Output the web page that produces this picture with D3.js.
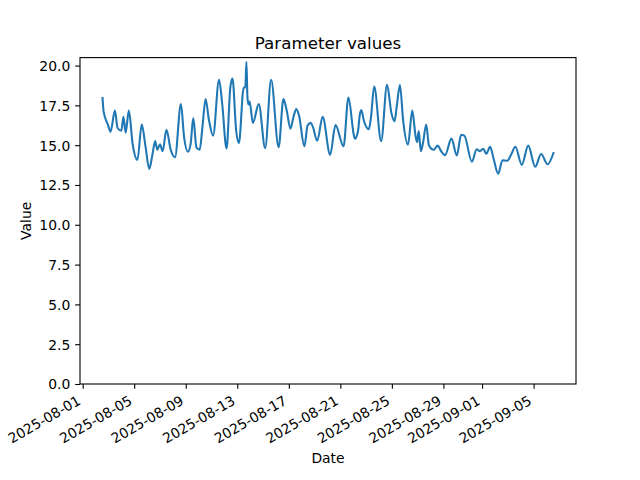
<!DOCTYPE html>
<html>
<head>
<meta charset="utf-8">
<script src="https://cdn.jsdelivr.net/npm/d3@7"></script>
<style>
  body { margin: 0; background: #fff; }
  svg text { font-family: "DejaVu Sans", sans-serif; fill: #000; }
</style>
</head>
<body>
<svg id="chart" width="640" height="480"></svg>
<script>
// ---- data ----
const dates = [
  "2025-08-02T13:00","2025-08-02T15:00","2025-08-02T23:00","2025-08-03T04:00","2025-08-03T12:00",
  "2025-08-03T17:00","2025-08-04T00:00","2025-08-04T04:00","2025-08-04T08:00","2025-08-04T14:00",
  "2025-08-04T21:00","2025-08-05T06:00","2025-08-05T14:00","2025-08-05T21:00","2025-08-06T04:00",
  "2025-08-06T10:00","2025-08-06T15:00","2025-08-06T19:00","2025-08-07T00:00","2025-08-07T05:00",
  "2025-08-07T12:00","2025-08-07T20:00","2025-08-08T04:00","2025-08-08T15:00","2025-08-08T21:00",
  "2025-08-09T04:00","2025-08-09T09:00","2025-08-09T14:00","2025-08-09T20:00","2025-08-10T02:00",
  "2025-08-10T07:00","2025-08-10T13:00","2025-08-10T19:00","2025-08-11T03:00","2025-08-11T14:00",
  "2025-08-11T20:00","2025-08-12T04:00","2025-08-12T11:00","2025-08-12T15:00","2025-08-12T22:00",
  "2025-08-13T03:00","2025-08-13T12:00","2025-08-13T15:00","2025-08-13T17:00","2025-08-13T19:00",
  "2025-08-13T21:00","2025-08-13T23:00","2025-08-14T05:00","2025-08-14T16:00","2025-08-15T04:00",
  "2025-08-15T15:00","2025-08-16T05:00","2025-08-16T14:00","2025-08-16T20:00","2025-08-17T03:00",
  "2025-08-17T09:00","2025-08-17T14:00","2025-08-17T19:00","2025-08-18T05:00","2025-08-18T11:00",
  "2025-08-18T17:00","2025-08-18T21:00","2025-08-19T05:00","2025-08-19T15:00","2025-08-20T05:00",
  "2025-08-20T15:00","2025-08-21T06:00","2025-08-21T15:00","2025-08-22T01:00","2025-08-22T03:00",
  "2025-08-22T09:00","2025-08-22T12:00","2025-08-22T15:00","2025-08-22T20:00","2025-08-23T05:00",
  "2025-08-23T09:00","2025-08-23T15:00","2025-08-24T04:00","2025-08-24T15:00","2025-08-24T23:00",
  "2025-08-25T05:00","2025-08-25T09:00","2025-08-25T15:00","2025-08-25T21:00","2025-08-26T06:00",
  "2025-08-26T14:00","2025-08-26T20:00","2025-08-26T23:00","2025-08-27T02:00","2025-08-27T06:00",
  "2025-08-27T10:00","2025-08-27T16:00","2025-08-27T21:00","2025-08-28T06:00","2025-08-28T13:00",
  "2025-08-28T21:00","2025-08-29T03:00","2025-08-29T15:00","2025-08-30T01:00","2025-08-30T09:00",
  "2025-08-30T15:00","2025-08-31T05:00","2025-08-31T14:00","2025-08-31T20:00","2025-09-01T02:00",
  "2025-09-01T08:00","2025-09-01T15:00","2025-09-01T22:00","2025-09-02T06:00","2025-09-02T14:00",
  "2025-09-02T23:00","2025-09-03T06:00","2025-09-03T14:00","2025-09-04T02:00","2025-09-04T14:00",
  "2025-09-05T03:00","2025-09-05T14:00","2025-09-06T02:00","2025-09-06T13:00"
];
const values = [
  17.96,17.11,16.29,15.85,17.17,
  16.08,15.91,16.79,15.78,17.17,
  15.09,14.08,16.29,14.93,13.51,
  14.42,15.26,14.71,15.06,14.62,
  15.97,14.71,14.24,17.58,15.47,
  14.59,15.05,16.70,14.84,14.71,
  16.10,17.90,16.62,15.60,19.11,
  17.57,14.78,18.62,19.19,15.89,
  15.13,18.62,18.62,20.23,17.97,
  17.55,17.74,16.40,17.58,14.81,
  19.11,14.87,17.90,17.19,16.04,
  16.82,17.27,16.86,14.93,16.23,
  16.40,16.13,15.28,16.79,14.40,
  16.26,14.93,17.99,15.66,15.40,
  15.91,16.86,17.20,16.52,16.00,
  16.73,18.68,15.25,18.80,17.04,
  16.51,17.42,18.78,16.54,15.03,
  17.17,15.60,15.19,15.88,14.62,
  15.15,16.30,15.00,14.71,14.97,
  14.56,14.37,15.41,14.35,15.65,
  15.60,13.96,14.74,14.62,14.78,
  14.46,14.90,14.08,13.20,14.05,
  14.02,14.40,14.90,13.76,14.97,
  13.64,14.45,13.80,14.51
];
const xTickDates = ["2025-08-01","2025-08-05","2025-08-09","2025-08-13","2025-08-17",
                    "2025-08-21","2025-08-25","2025-08-29","2025-09-01","2025-09-05"];
const yTicks = [0, 2.5, 5, 7.5, 10, 12.5, 15, 17.5, 20];
const titleText = "Parameter values";
const xLabelText = "Date";
const yLabelText = "Value";

// ---- layout ----
const W = 640, H = 480;
const m = { left: 80, right: 64, top: 57.6, bottom: 96 };
const x0 = m.left, x1 = W - m.right, y0 = H - m.bottom, y1 = m.top;

const parseT = d3.isoParse;
const data = dates.map((d, i) => ({ t: parseT(d), v: values[i] }));

const ext = d3.extent(data, d => d.t);
const span = ext[1] - ext[0];
const x = d3.scaleTime()
  .domain([new Date(+ext[0] - 0.05 * span), new Date(+ext[1] + 0.05 * span)])
  .range([x0, x1]);
const y = d3.scaleLinear().domain([0, 20.5]).range([y0, y1]);

const svg = d3.select("#chart");
svg.append("rect").attr("width", W).attr("height", H).attr("fill", "#fff");

const fmt = d3.utcFormat("%Y-%m-%d");
const tickLen = 4.86, pad = 4.86;

// X axis
const xAxis = d3.axisBottom(x)
  .tickValues(xTickDates.map(d => parseT(d)))
  .tickSize(tickLen).tickPadding(pad)
  .tickFormat(d => d3.timeFormat("%Y-%m-%d")(d));
const gx = svg.append("g").attr("transform", `translate(0,${y0})`).call(xAxis);
gx.select(".domain").remove();
gx.selectAll(".tick line").attr("stroke", "#000").attr("stroke-width", 1.1);
gx.selectAll(".tick text")
  .attr("font-size", "13.9px")
  .attr("text-anchor", "end")
  .attr("dy", null)
  .attr("y", null)
  .attr("transform", "translate(-1.5,19.5) rotate(-30)");

// Y axis
const yAxis = d3.axisLeft(y).tickValues(yTicks)
  .tickSize(tickLen).tickPadding(pad)
  .tickFormat(d3.format(".1f"));
const gy = svg.append("g").attr("transform", `translate(${x0},0)`).call(yAxis);
gy.select(".domain").remove();
gy.selectAll(".tick line").attr("stroke", "#000").attr("stroke-width", 1.1);
gy.selectAll(".tick text").attr("font-size", "13.9px").attr("dy", "0.35em");

// Line
const line = d3.line()
  .x(d => x(d.t)).y(d => y(d.v))
  .curve(d3.curveMonotoneX);
svg.append("path").datum(data)
  .attr("d", line)
  .attr("fill", "none")
  .attr("stroke", "#1f77b4")
  .attr("stroke-width", 2.08)
  .attr("stroke-linejoin", "round")
  .attr("stroke-linecap", "square");

// Frame
svg.append("rect")
  .attr("x", x0).attr("y", y1)
  .attr("width", x1 - x0).attr("height", y0 - y1)
  .attr("fill", "none").attr("stroke", "#000").attr("stroke-width", 1.1);

// Titles
svg.append("text").attr("x", (x0 + x1) / 2).attr("y", y1 - 8.3)
  .attr("text-anchor", "middle").attr("font-size", "16.7px").text(titleText);
svg.append("text").attr("x", (x0 + x1) / 2).attr("y", 463)
  .attr("text-anchor", "middle").attr("font-size", "13.9px").text(xLabelText);
svg.append("text")
  .attr("transform", `translate(31,${(y0 + y1) / 2}) rotate(-90)`)
  .attr("text-anchor", "middle").attr("font-size", "13.9px").text(yLabelText);
</script>
</body>
</html>
